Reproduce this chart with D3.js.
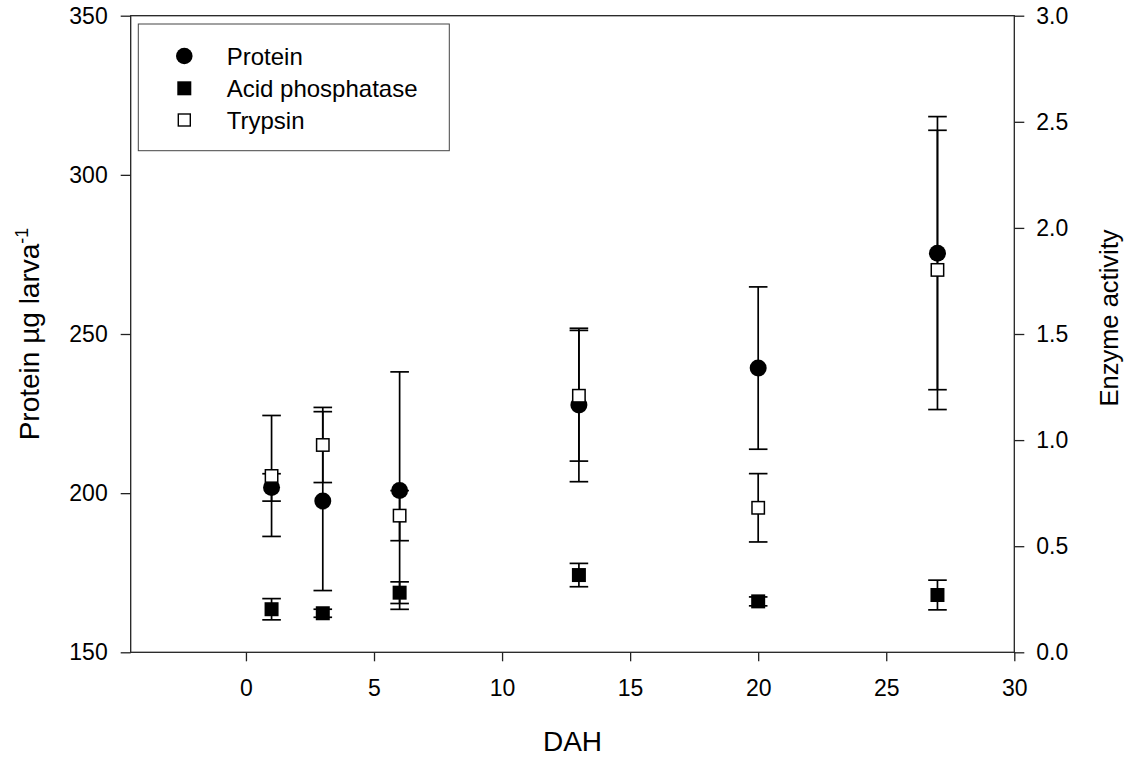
<!DOCTYPE html>
<html>
<head>
<meta charset="utf-8">
<script src="https://cdn.jsdelivr.net/npm/d3@7"></script>
<style>
    body { margin: 0; background: #fff; }
    svg { display: block; font-family: "Liberation Sans", Arial, sans-serif; }
    .axis text { font-size: 23px; fill: #000; }
    .axis line { stroke: #222; stroke-width: 1.3; }
</style>
</head>
<body>
<div id="chart"></div>
<script>
// ============================================================================
// Protein and enzyme activity vs days after hatching (DAH)
// ============================================================================

const days = [1, 3, 6, 13, 20, 27];

// left axis, protein µg larva-1
const protein = [201.8, 197.5, 200.8, 227.7, 239.3, 275.4];
const proteinErr = [4.3, 28.1, 37.3, 24.1, 25.5, 42.9];

// right axis, enzyme activity
const acidPhos = [0.203, 0.184, 0.281, 0.364, 0.240, 0.270];
const acidPhosErr = [0.050, 0.019, 0.051, 0.055, 0.021, 0.070];
const trypsin = [0.831, 0.977, 0.644, 1.209, 0.681, 1.802];
const trypsinErr = [0.285, 0.177, 0.118, 0.308, 0.161, 0.658];

const xTicks = [0, 5, 10, 15, 20, 25, 30];
const yLeftTicks = [150, 200, 250, 300, 350];
const yRightTicks = [0, 0.5, 1.0, 1.5, 2.0, 2.5, 3.0];
const legendLabels = ['Protein', 'Acid phosphatase', 'Trypsin'];

const width = 1137, height = 760;
const margin = { top: 15.7, right: 122.7, bottom: 107.7, left: 130.7 };
const w = width - margin.left - margin.right;
const h = height - margin.top - margin.bottom;

const svg = d3.select('#chart').append('svg')
    .attr('width', width).attr('height', height);

const g = svg.append('g')
    .attr('transform', `translate(${margin.left},${margin.top})`);

const xScale = d3.scaleLinear().domain([-4.5, 30]).range([0, w]);
const yLeft = d3.scaleLinear().domain([150, 350]).range([h, 0]);
const yRight = d3.scaleLinear().domain([0, 3]).range([h, 0]);

// Axes
const xAxis = g.append('g')
    .attr('class', 'axis')
    .attr('transform', `translate(0,${h})`)
    .call(d3.axisBottom(xScale).tickValues(xTicks).tickSize(9).tickSizeOuter(0).tickPadding(18).tickFormat(d3.format('d')));
xAxis.select('.domain').remove();

const lAxis = g.append('g')
    .attr('class', 'axis')
    .call(d3.axisLeft(yLeft).tickValues(yLeftTicks).tickSize(10).tickSizeOuter(0).tickPadding(13).tickFormat(d3.format('d')));
lAxis.select('.domain').remove();

const rAxis = g.append('g')
    .attr('class', 'axis')
    .attr('transform', `translate(${w},0)`)
    .call(d3.axisRight(yRight).tickValues(yRightTicks).tickSize(10).tickSizeOuter(0).tickPadding(12).tickFormat(d3.format('.1f')));
rAxis.select('.domain').remove();

// Frame
g.append('rect')
    .attr('x', 0).attr('y', 0)
    .attr('width', w).attr('height', h)
    .attr('fill', 'none')
    .attr('stroke', '#222')
    .attr('stroke-width', 1.3);

// Axis titles
g.append('text')
    .attr('x', w / 2)
    .attr('y', 750.7 - margin.top)
    .attr('text-anchor', 'middle')
    .style('font-size', '28px')
    .text('DAH');

const leftTitle = g.append('text')
    .attr('transform', `translate(${38.5 - margin.left},${h / 2}) rotate(-90)`)
    .attr('text-anchor', 'middle')
    .style('font-size', '28px');
leftTitle.append('tspan').text('Protein µg larva');
leftTitle.append('tspan').attr('dy', '-11').style('font-size', '18px').text('-1');

g.append('text')
    .attr('transform', `translate(${1117.7 - margin.left},${318 - margin.top}) rotate(-90)`)
    .attr('text-anchor', 'middle')
    .style('font-size', '25.5px')
    .text('Enzyme activity');

const capHalf = 9.3;

function drawErrors(vals, errs, y) {
    const eg = g.append('g')
        .attr('stroke', '#000')
        .attr('stroke-width', 1.7)
        .attr('fill', 'none');
    days.forEach((d, i) => {
        const x = xScale(d);
        const y1 = y(vals[i] + errs[i]);
        const y2 = y(vals[i] - errs[i]);
        eg.append('line').attr('x1', x).attr('x2', x).attr('y1', y1).attr('y2', y2);
        eg.append('line').attr('x1', x - capHalf).attr('x2', x + capHalf).attr('y1', y1).attr('y2', y1);
        eg.append('line').attr('x1', x - capHalf).attr('x2', x + capHalf).attr('y1', y2).attr('y2', y2);
    });
}

// Protein
drawErrors(protein, proteinErr, yLeft);
g.selectAll('.protein')
    .data(days)
    .join('circle')
    .attr('cx', d => xScale(d))
    .attr('cy', (d, i) => yLeft(protein[i]))
    .attr('r', 8.5)
    .attr('fill', '#000');

// Acid phosphatase
drawErrors(acidPhos, acidPhosErr, yRight);
g.selectAll('.acid')
    .data(days)
    .join('rect')
    .attr('x', d => xScale(d) - 7)
    .attr('y', (d, i) => yRight(acidPhos[i]) - 7)
    .attr('width', 14).attr('height', 14)
    .attr('fill', '#000');

// Trypsin
drawErrors(trypsin, trypsinErr, yRight);
g.selectAll('.trypsin')
    .data(days)
    .join('rect')
    .attr('x', d => xScale(d) - 6.2)
    .attr('y', (d, i) => yRight(trypsin[i]) - 6.2)
    .attr('width', 12.4).attr('height', 12.4)
    .attr('fill', '#fff')
    .attr('stroke', '#000')
    .attr('stroke-width', 1.5);

// Legend
const lg = svg.append('g');
lg.append('rect')
    .attr('x', 138.3).attr('y', 24)
    .attr('width', 311).attr('height', 126.7)
    .attr('fill', '#fff')
    .attr('stroke', '#444')
    .attr('stroke-width', 1);

const rowY = [56, 88.3, 120];
lg.append('circle').attr('cx', 184.3).attr('cy', rowY[0]).attr('r', 8.3).attr('fill', '#000');
lg.append('rect').attr('x', 177.3).attr('y', rowY[1] - 7).attr('width', 14).attr('height', 14).attr('fill', '#000');
lg.append('rect').attr('x', 178.3).attr('y', rowY[2] - 6).attr('width', 12).attr('height', 12)
    .attr('fill', '#fff').attr('stroke', '#000').attr('stroke-width', 1.4);

legendLabels.forEach((label, i) => {
    lg.append('text')
        .attr('x', 226.7)
        .attr('y', rowY[i])
        .attr('dy', '0.36em')
        .style('font-size', '24px')
        .text(label);
});
</script>
</body>
</html>
